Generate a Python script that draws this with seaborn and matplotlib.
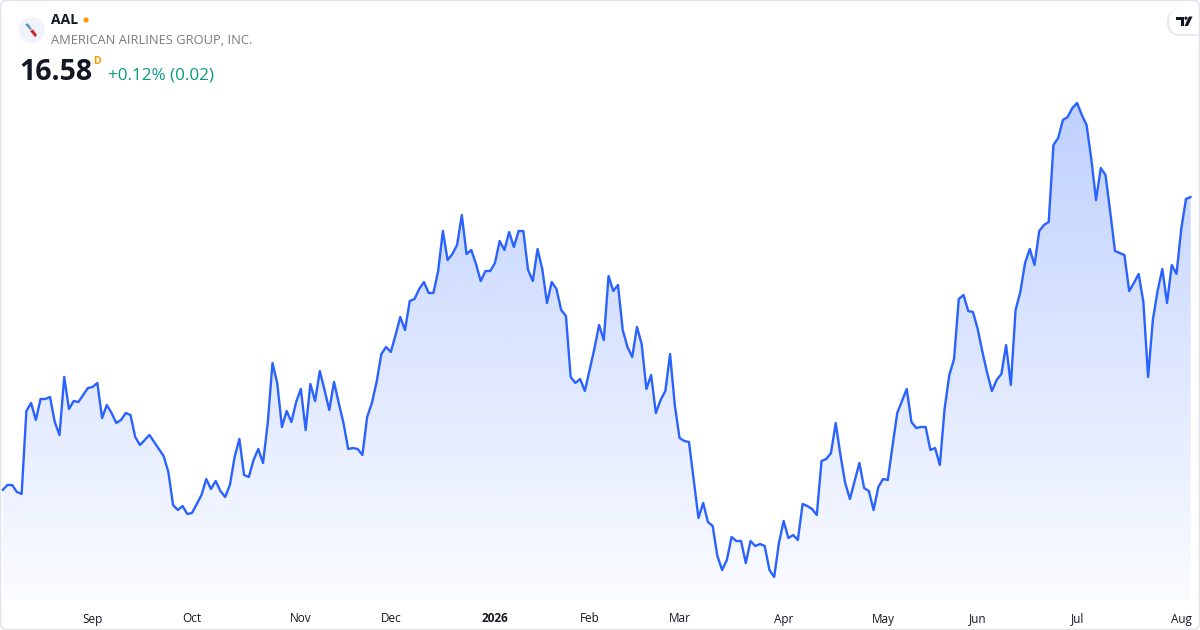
import numpy as np
import pandas as pd
import matplotlib
matplotlib.use("Agg")
import matplotlib.pyplot as plt
import seaborn as sns
from matplotlib.colors import LinearSegmentedColormap
from matplotlib.patches import FancyBboxPatch, Circle, Polygon
from matplotlib.transforms import IdentityTransform

# ---------------- data ----------------
ticker = "AAL"
company = "AMERICAN AIRLINES GROUP, INC."
last_price = "16.58"
interval = "D"
change_text = "+0.12% (0.02)"

prices = [
    13.65, 13.70, 13.70, 13.63, 13.61, 14.44, 14.52, 14.35, 14.56, 14.56,
    14.58, 14.33, 14.20, 14.78, 14.46, 14.54, 14.53, 14.60, 14.67, 14.68,
    14.72, 14.37, 14.50, 14.42, 14.32, 14.35, 14.42, 14.40, 14.18, 14.10,
    14.15, 14.20, 14.13, 14.06,
    13.99, 13.83, 13.50, 13.45, 13.49, 13.41, 13.42, 13.51, 13.60, 13.76,
    13.66, 13.74, 13.64, 13.58, 13.70, 13.98, 14.16, 13.80, 13.78, 13.95,
    14.06, 13.92, 14.32, 14.92, 14.72, 14.28, 14.44, 14.33, 14.53, 14.66,
    14.25, 14.71,
    14.54, 14.84, 14.65, 14.45, 14.73, 14.52, 14.32, 14.06, 14.07, 14.06,
    14.00, 14.38, 14.52, 14.73, 15.01, 15.08, 15.03, 15.20, 15.38, 15.25,
    15.54, 15.56, 15.66, 15.73, 15.62, 15.62, 15.84, 16.24, 15.95, 16.01,
    16.10,
    16.40, 16.01, 16.05, 15.91, 15.74, 15.84, 15.84, 15.92, 16.14, 16.05,
    16.23, 16.08, 16.24, 16.24, 15.85, 15.74, 16.06, 15.86, 15.52, 15.73,
    15.66, 15.45, 15.39, 14.78, 14.72, 14.76, 14.64, 14.85, 15.06, 15.30,
    15.15, 15.79,
    15.64, 15.70, 15.25, 15.08, 14.98, 15.28, 15.11, 14.66, 14.80, 14.42,
    14.55, 14.64, 15.01, 14.50, 14.17, 14.14, 14.13, 13.75, 13.37, 13.52,
    13.33, 13.29, 12.99, 12.85, 12.95, 13.18, 13.14, 13.14, 12.92, 13.14,
    13.09, 13.11,
    13.09, 12.85, 12.78, 13.12, 13.34, 13.17, 13.20, 13.15, 13.51, 13.49,
    13.46, 13.40, 13.94, 13.96, 14.02, 14.32, 14.00, 13.72, 13.56, 13.74,
    13.92, 13.67, 13.64, 13.45, 13.68, 13.76, 13.75, 14.09, 14.42, 14.54,
    14.66,
    14.33, 14.27, 14.28, 14.28, 14.05, 14.07, 13.90, 14.46, 14.80, 14.96,
    15.56, 15.60, 15.44, 15.43, 15.26, 15.03, 14.82, 14.64, 14.75, 14.81,
    15.10, 14.70, 15.45, 15.63, 15.92, 16.06, 15.90, 16.24, 16.30, 16.33,
    17.10, 17.17, 17.35, 17.38, 17.47, 17.52, 17.40, 17.30, 16.96, 16.55,
    16.87, 16.80, 16.43, 16.04, 16.02, 16.00, 15.64, 15.72, 15.81, 15.53,
    14.78, 15.35, 15.64, 15.86, 15.52, 15.90, 15.81, 16.26, 16.56, 16.58,
]

# trading-day index of the first session of each month
tick_pos = [19, 40, 63, 82, 104, 124, 143, 165, 186, 206, 227, 249]
tick_labels = ["Sep", "Oct", "Nov", "Dec", "2026", "Feb", "Mar", "Apr",
               "May", "Jun", "Jul", "Aug"]

# ---------------- style ----------------
sns.set_theme(style="white")
plt.rcParams["font.family"] = ["Open Sans", "DejaVu Sans"]

W, H = 1200, 630
fig = plt.figure(figsize=(12, 6.3), dpi=100)
fig.patch.set_facecolor("white")
ID = IdentityTransform()


def P(x, y):
    """pixel (from top-left) -> display coords"""
    return (x, H - y)


LINE = "#2962FF"
Y_LO, Y_HI = 12.55, 18.55

ax = fig.add_axes([0, 1 - 600 / H, 1, 600 / H])
ax.set_facecolor("none")
df = pd.DataFrame({"i": np.arange(len(prices)), "p": prices})

step = 1188.0 / (len(prices) - 1)
xmin = -2.7 / step
xmax = len(prices) - 1 + 9.3 / step

# gradient area under the line
poly = ax.fill_between(df["i"], df["p"], Y_LO, color="none", linewidth=0)
cmap = LinearSegmentedColormap.from_list(
    "g", [(41 / 255, 98 / 255, 1, 0.02), (41 / 255, 98 / 255, 1, 0.30)])
grad = np.linspace(0, 1, 256).reshape(-1, 1)
im = ax.imshow(grad, extent=[xmin, xmax, Y_LO, max(prices)], origin="lower",
               aspect="auto", cmap=cmap, zorder=1, interpolation="bilinear")
im.set_clip_path(poly.get_paths()[0], transform=ax.transData)

sns.lineplot(data=df, x="i", y="p", ax=ax, color=LINE, linewidth=1.7,
             zorder=3)

ax.set_xlim(xmin, xmax)
ax.set_ylim(Y_LO, Y_HI)
ax.set_xlabel("")
ax.set_ylabel("")
ax.set_yticks([])
ax.set_xticks(tick_pos)
ax.set_xticklabels(tick_labels)
ax.tick_params(axis="x", length=0, pad=9, labelsize=8.5, labelcolor="#131722")
for lab in ax.get_xticklabels():
    if lab.get_text() == "2026":
        lab.set_fontweight("bold")
for s in ax.spines.values():
    s.set_visible(False)

# ---------------- header ----------------
# logo
fig.patches.append(Circle(P(32, 30), 13, transform=ID, facecolor="#f0f3fa",
                          edgecolor="none"))
fig.patches.append(Polygon([P(25, 24), P(28, 23.5), P(32, 29), P(30, 30)],
                           closed=True, transform=ID, facecolor="#5d8fc9",
                           edgecolor="none"))
fig.patches.append(Polygon([P(30, 31), P(33, 29.5), P(37, 35), P(35, 37)],
                           closed=True, transform=ID, facecolor="#d2232a",
                           edgecolor="none"))

fig.text(*P(51, 20), ticker, transform=ID, fontsize=10, fontweight="bold",
         color="#131722", va="center", ha="left")
fig.patches.append(Circle(P(86, 20), 2.6, transform=ID, facecolor="#ff9800",
                          edgecolor="none"))
fig.text(*P(51, 41), company, transform=ID, fontsize=9.25, color="#787b86",
         va="center", ha="left")
fig.text(*P(19, 73), last_price, transform=ID, fontsize=20.5,
         fontweight="bold", color="#131722", va="center", ha="left")
fig.text(*P(93, 62), interval, transform=ID, fontsize=7.5, fontweight="bold",
         color="#ff9800", va="center", ha="left")
fig.text(*P(108, 76), change_text, transform=ID, fontsize=12.3,
         color="#089981", va="center", ha="left")

# TradingView badge (top right)
fig.patches.append(FancyBboxPatch(P(1167, 36), 42, 27, transform=ID,
                                  boxstyle="round,pad=0,rounding_size=13",
                                  facecolor="#dfe2ea", edgecolor="none",
                                  alpha=0.7))
fig.patches.append(FancyBboxPatch(P(1169, 34), 40, 25, transform=ID,
                                  boxstyle="round,pad=0,rounding_size=12",
                                  facecolor="white", edgecolor="none"))
fig.patches.append(Polygon([P(1175.5, 16.5), P(1183.5, 16.5), P(1183.5, 26),
                            P(1180.5, 26), P(1180.5, 19.5), P(1175.5, 19.5)],
                           closed=True, transform=ID, facecolor="#131722",
                           edgecolor="none"))
fig.patches.append(Circle(P(1186, 18.2), 1.6, transform=ID,
                          facecolor="#131722", edgecolor="none"))
fig.patches.append(Polygon([P(1189, 16.5), P(1192.5, 16.5), P(1188, 26),
                            P(1184.5, 26)], closed=True, transform=ID,
                           facecolor="#131722", edgecolor="none"))

# outer border
fig.patches.append(FancyBboxPatch(P(0.5, 629.5), 1199, 629, transform=ID,
                                  boxstyle="round,pad=0,rounding_size=6",
                                  facecolor="none", edgecolor="#e0e3eb",
                                  linewidth=1.0, zorder=10))

fig.savefig("out.png", dpi=100, facecolor="white")
